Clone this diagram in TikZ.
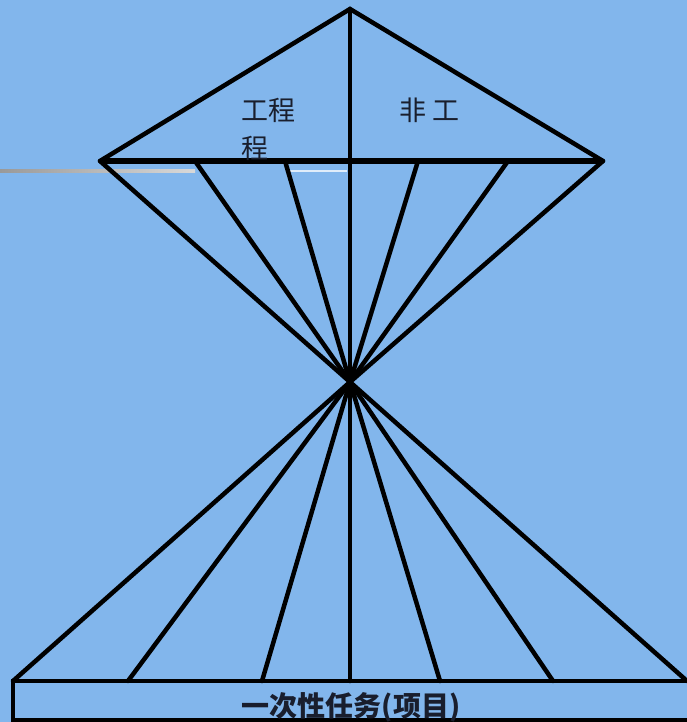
\documentclass[tikz,border=0pt]{standalone}
\usepackage{fontspec}
\newfontfamily\cjk{Noto Sans CJK SC}
\definecolor{bgblue}{RGB}{130,182,236}
\definecolor{txtdark}{RGB}{25,30,45}
\begin{document}
\begin{tikzpicture}[x=1pt,y=-1pt,
  bar/.style={line width=4.5pt,black,line cap=round,line join=miter},
  lbl/.style={inner sep=0pt,text=txtdark,font=\cjk\fontsize{27}{38}\selectfont}]
\useasboundingbox (0,0) rectangle (687,722);
\fill[bgblue] (0,0) rectangle (687,722);
\clip (0,0) rectangle (687,722);
% key points
\coordinate (apex) at (350,9);
\coordinate (c) at (350,382);
\coordinate (tl) at (100,161);
\coordinate (tr) at (603,161);
\coordinate (t1) at (195,161);
\coordinate (t2) at (285,161);
\coordinate (t3) at (350,161);
\coordinate (t4) at (418,161);
\coordinate (t5) at (508,161);
\coordinate (bl) at (13,681);
\coordinate (b1) at (128,681);
\coordinate (b2) at (262,681);
\coordinate (b3) at (350,681);
\coordinate (b4) at (440,681);
\coordinate (b5) at (553,681);
\coordinate (br) at (687,681);
\coordinate (rb) at (700,720);
% faint stray lines
\coordinate (w0) at (290,171);
\coordinate (w1) at (347,171);
\shade[left color=gray!80,right color=gray!30] (0,170) rectangle (195,172.5);
\draw[white!75!bgblue,line width=1.2pt] (w0) -- (w1);
% top triangle
\draw[bar] (tl) -- (apex) -- (tr);
\draw[line width=5.5pt,black] (tl) -- (tr);
\draw[bar] (apex) -- (b3);
% upper fan
\foreach \p in {tl,t1,t2,t4,t5,tr} \draw[bar] (\p) -- (c);
% lower fan
\foreach \p in {bl,b1,b2,b4,b5,br} \draw[bar] (c) -- (\p);
% bottom box
\draw[line width=4.5pt,black,line join=miter] (rb) -| (bl) -- (br) -- ++(20,0);
% labels
\node[lbl,anchor=west] (l1) at (241,110) {工程};
\node[lbl,anchor=west] (l2) at (241,148) {程};
\node[lbl,anchor=west] (l3) at (399,110) {非\hspace{6pt}工};
\node[inner sep=0pt,text=txtdark,font=\cjk\bfseries\fontsize{28}{30}\selectfont] (bt) at (351,707) {一次性任务(项目)};
\end{tikzpicture}
\end{document}
